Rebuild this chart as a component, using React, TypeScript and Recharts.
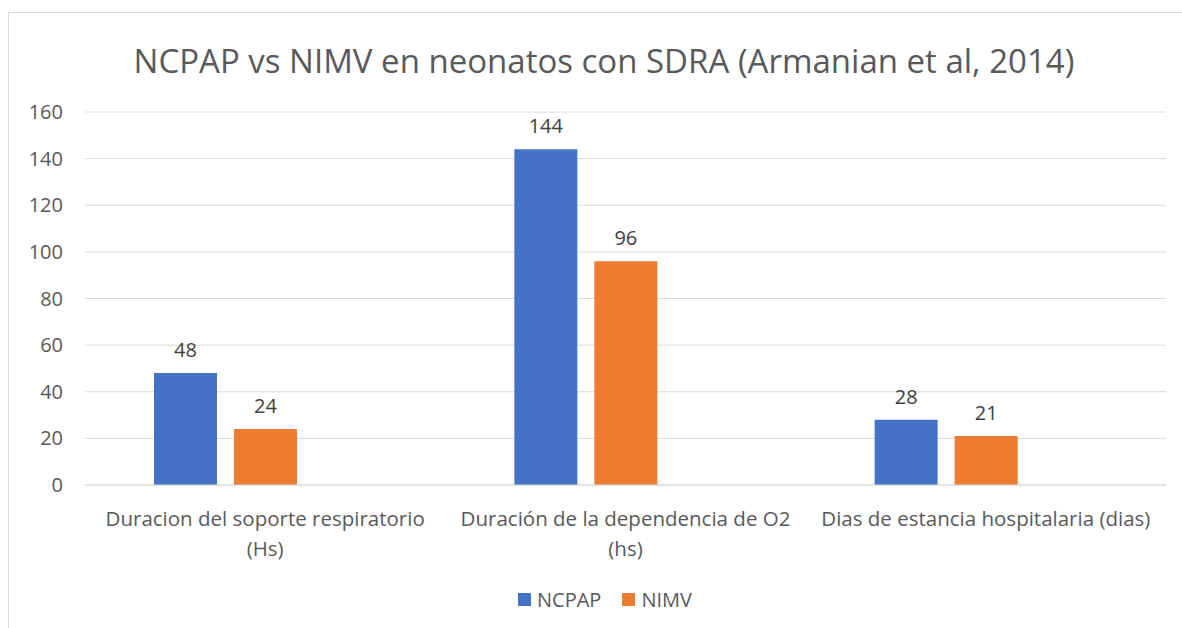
import { BarChart, Bar, XAxis, YAxis, CartesianGrid, LabelList } from "recharts";

const categories = [
  "Duracion del soporte respiratorio\n(Hs)",
  "Duración de la dependencia de O2\n(hs)",
  "Dias de estancia hospitalaria (dias)",
];
const ncpap = [48, 144, 28];
const nimv = [24, 96, 21];
const yTicks = [0, 20, 40, 60, 80, 100, 120, 140, 160];

const series = [
  { key: "NCPAP", color: "#4472C4" },
  { key: "NIMV", color: "#ED7D31" },
];

const data = categories.map((name, i) => ({
  name,
  NCPAP: ncpap[i],
  NIMV: nimv[i],
  empty: null,
}));

const FONT = "'Open Sans', sans-serif";

function CategoryTick({ x, y, payload }: any) {
  const lines = String(payload.value).split("\n");
  return (
    <text x={x} y={y} textAnchor="middle" fill="#595959" fontSize={20.5} fontFamily={FONT}>
      {lines.map((l, i) => (
        <tspan key={i} x={x} dy={i === 0 ? 33 : 30}>{l}</tspan>
      ))}
    </text>
  );
}

export default function App() {
  return (
    <div style={{ position: "fixed", left: 0, top: 0, width: 1182, height: 628, overflow: "hidden", background: "#fff", fontFamily: FONT }}>
      <div style={{ position: "absolute", left: 8, top: 12, width: 1200, height: 640, border: "1px solid #D9D9D9" }} />
      <div style={{ position: "absolute", left: 8, width: 1192, top: 37, textAlign: "center", fontSize: 33, color: "#595959", lineHeight: "48px" }}>
        NCPAP vs NIMV en neonatos con SDRA (Armanian et al, 2014)
      </div>
      <div style={{ position: "absolute", left: 0, top: 0 }}>
        <BarChart width={1182} height={628} data={data} margin={{ top: 112, right: 16, bottom: 113, left: 40 }} barSize={63} barGap={17}>
          <CartesianGrid vertical={false} stroke="#D9D9D9" />
          <XAxis dataKey="name" tick={<CategoryTick />} tickLine={false} axisLine={{ stroke: "#D9D9D9" }} interval={0} />
          <YAxis ticks={yTicks} domain={[0, 160]} width={45} tickLine={false} axisLine={false} tickMargin={16}
            tick={{ fill: "#595959", fontSize: 20, fontFamily: FONT }} />
          {series.map((s) => (
            <Bar key={s.key} dataKey={s.key} fill={s.color} isAnimationActive={false}>
              <LabelList dataKey={s.key} position="top" offset={16} fill="#404040" fontSize={20} fontFamily={FONT} />
            </Bar>
          ))}
          <Bar dataKey="empty" fill="#A5A5A5" legendType="none" isAnimationActive={false} />
        </BarChart>
      </div>
      <div style={{ position: "absolute", left: 0, width: 1210, top: 586, display: "flex", justifyContent: "center", alignItems: "center", gap: 21, fontSize: 20, color: "#595959" }}>
        {series.map((s) => (
          <div key={s.key} style={{ display: "flex", alignItems: "center" }}>
            <span style={{ width: 13, height: 13, background: s.color, display: "inline-block", marginRight: 6 }} />
            <span>{s.key}</span>
          </div>
        ))}
      </div>
    </div>
  );
}
